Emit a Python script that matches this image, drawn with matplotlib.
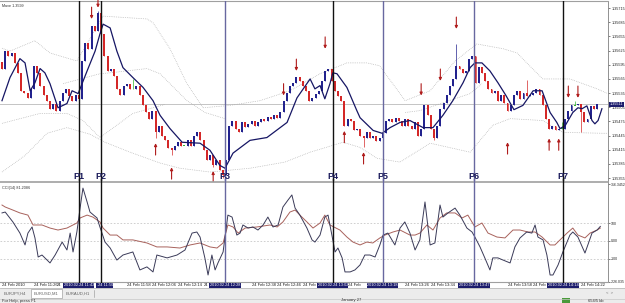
import matplotlib.pyplot as plt
import matplotlib.transforms as mtransforms
from matplotlib.patches import Rectangle
from matplotlib.lines import Line2D

plt.rcParams["font.family"] = ["Liberation Sans", "DejaVu Sans"]

## -----------------------------------------------------------------------------
## EURUSD M1 screenshot: candles + MA + bands on top, CCI(14) below
## prices are in points above 1.35000, x is the bar number
## -----------------------------------------------------------------------------

first_open = 600
close = [587, 624, 614, 620, 599, 578, 540, 536, 525, 544,
         593, 578, 551, 530, 519, 502, 511, 498, 519, 536,
         544, 528, 519, 532, 523, 604, 641, 629, 677, 666,
         704, 660, 614, 582, 587, 572, 544, 532, 551, 555,
         544, 544, 551, 530, 509, 494, 481, 498, 452, 466,
         445, 435, 418, 414, 424, 431, 424, 424, 435, 424,
         445, 452, 435, 414, 393, 403, 382, 393, 372, 361,
         393, 466, 477, 460, 452, 473, 464, 469, 477, 466,
         473, 481, 477, 485, 481, 488, 483, 494, 519, 536,
         551, 557, 570, 561, 551, 540, 519, 525, 534, 540,
         561, 582, 587, 561, 540, 528, 519, 466, 481, 477,
         456, 460, 445, 439, 452, 441, 445, 433, 441, 450,
         477, 481, 473, 483, 477, 466, 481, 466, 460, 473,
         445, 460, 509, 488, 460, 439, 466, 502, 515, 530,
         551, 565, 593, 587, 578, 582, 608, 614, 557, 591,
         578, 561, 544, 536, 540, 519, 530, 515, 498, 509,
         530, 540, 523, 536, 528, 532, 536, 544, 530, 509,
         481, 460, 466, 456, 460, 460, 481, 498, 509, 509,
         513, 494, 473, 481, 507, 502, 511]

hi_bar = [30, 41, 142, 164, 175, 179]
hi_val = [709, 565, 639, 562, 473, 519]
lo_bar = [48, 53, 66, 69, 113, 135, 181]
lo_val = [441, 403, 378, 355, 420, 435, 452]

ma_bar = [0, 2.5, 5.6, 7.2, 8.8, 10.3, 11.9, 13.4, 15, 17.5, 20.3, 21.9, 23.8, 26.6,
          29.1, 30.6, 31.6, 33.8, 35.9, 37.8, 40.9, 44.1, 47.2, 49.4, 52.5, 56.3,
          61.9, 65, 68.1, 69.7, 72.2, 77.5, 82.8, 89.1, 92.2, 96.3, 97.8, 99.4,
          100.9, 102.5, 103.4, 104.7, 107.8, 110.9, 111.9, 116, 118.8, 121.3,
          124.4, 127.5, 131.6, 134.7, 137.8, 140.9, 144.1, 146.3, 147.8, 150,
          152.5, 155, 157.5, 160, 162.8, 166, 168.8, 171.3, 173.4, 174.4, 176,
          178.4, 180, 181.3, 182.8, 184.4, 185.3, 186.3, 187.5]
ma_val = [519, 568, 608, 599, 540, 557, 587, 578, 555, 504, 513, 540, 534, 582,
          624, 660, 681, 673, 624, 589, 568, 547, 519, 488, 460, 431,
          429, 414, 382, 376, 408, 435, 441, 473, 525, 565, 544, 551,
          523, 555, 578, 576, 547, 498, 483, 456, 450, 462,
          473, 477, 462, 462, 488, 519, 557, 589, 599, 599,
          582, 557, 530, 500, 509, 540, 540, 494, 473, 460, 466,
          494, 504, 502, 508, 477, 470, 477, 502]

# dotted band lines, read where they show between the candles
upper_bar = [0, 2.5, 10.3, 15, 23.4, 27.5, 31.6, 45.3, 47.2, 52.5, 57.8, 62.8,
             71.3, 80.6, 90, 99.4, 107.8, 114, 118, 121.9, 126, 133.8, 141.6,
             148.4, 156.6, 161, 164, 169, 177.5, 186, 189]
upper_val = [630, 624, 646, 620, 603, 650, 698, 692, 684, 629, 555, 504,
             509, 519, 540, 576, 599, 599, 593, 557, 519, 540, 603,
             639, 629, 620, 599, 565, 565, 544, 535]
midA_bar = [0, 11.9, 20.3, 25.3, 30.6, 40.9, 47.2, 50.9]
midA_val = [471, 492, 492, 477, 441, 492, 504, 511]
midB_bar = [19.1, 30.6, 33.8, 45.3, 49.4, 57.8, 63.4, 69.7]
midB_val = [555, 576, 578, 587, 576, 519, 494, 481]
midC_bar = [126, 130.6, 146.3, 150]
midC_val = [494, 498, 534, 555]
lower_bar = [0, 7.2, 14.1, 20.3, 27.5, 32.2, 40, 49.4, 55.6, 65, 77.5, 88.4,
             96.3, 106.6, 111.9, 117.2, 124.4, 133.8, 146.3, 153.4, 158.8, 169,
             175.3, 187.8, 189.4]
lower_val = [368, 403, 450, 462, 448, 431, 410, 387, 376, 368, 376, 389,
             410, 431, 420, 397, 389, 429, 410, 467, 481, 477,
             452, 450, 450]

down_arrow_bar = [28, 30, 88, 92, 101, 131, 137, 142, 177, 180]
down_arrow_tip = [692, 716, 530, 582, 629, 530, 561, 671, 525, 525]
up_arrow_bar = [48, 53, 66, 107, 113, 158, 171, 174]
up_arrow_tip = [429, 378, 370, 455, 410, 431, 439, 439]

cci_bar = [0, 1, 3.4, 5.6, 7.2, 8.1, 9.4, 10.3, 11.3, 12.5, 15, 16.6, 18.8, 20.3,
           21.3, 22.2, 23.4, 24.4, 25.3, 26.6, 27.5, 29.7, 30.6, 32.2, 33.8, 35.9,
           37.8, 40.9, 43.1, 45.3, 47.2, 48.4, 51.6, 54.7, 57.2, 59.4, 60.9, 61.9,
           63.4, 64.4, 65.6, 66.6, 67.5, 69.1, 70.6, 71.9, 73.4, 74.4, 75.3, 76.9,
           78.4, 80, 81.6, 83.1, 84.7, 86.3, 87.8, 89.4, 90.6, 91.6, 93.1, 95.3,
           96.9, 97.8, 99.4, 100.9, 101.9, 103.1, 104.1, 105, 106.3, 107.2, 108.8,
           110.3, 111.9, 113.4, 115, 116.6, 118.1, 119.1, 120.6, 122.8, 124.4,
           125.9, 127.5, 129.1, 130.6, 132.2, 133.8, 135.3, 136.9, 137.8, 139.4,
           141.6, 143.1, 145.3, 146.9, 147.8, 149.4, 150.9, 152.5, 153.4, 155,
           156.6, 158.8, 160.3, 161.9, 164, 165.6, 166.6, 167.5, 169.1, 170.3,
           171.3, 172.2, 173.8, 175.3, 177.5, 178.4, 180, 182.2, 183.1, 184.4,
           186, 187]
cci_val = [156, 161, 106, 44, -22, 44, 78, 17, -89, -78, -122, -78, -6, -50,
           44, -61, 50, 183, 294, 217, 161, 128, 78, -6, -39, -106,
           -78, -61, -161, -144, -172, -78, -94, -78, -50, 44, 50, 22,
           -94, -189, -78, -161, -122, -61, 144, 133, 33, 44, 89, 72,
           78, 61, 89, 133, 78, 89, 189, 228, 256, 183, 144, 72,
           6, -6, 33, 133, 144, 33, -61, -39, -94, -172, -172,
           -161, -133, -78, -78, -89, -22, 33, 44, -22, 72,
           106, 44, -50, 6, 217, -22, -11, 200, 133, 156,
           183, 144, 72, 50, 22, -33, -94, -161, -94, -94,
           -106, -122, -33, 17, 50, 44, 89, 22, 6, -78,
           -189, -189, -133, -61, 33, 50, 22, -67, -22, 44,
           61, 81]
sig_bar = [0, 1, 3.4, 5.6, 8.1, 9.7, 12.5, 15, 17.5, 20.3, 23.4, 24.4, 26.6, 28.4,
           30.6, 31.6, 33.8, 35.9, 37.8, 40.9, 45.3, 48.4, 51.6, 55.6, 58.8, 61.9,
           65, 67.2, 69.1, 70.6, 72.2, 73.8, 76, 79.7, 83.8, 86, 87.8, 90, 91.6,
           93.1, 95.3, 97.2, 99.4, 100.9, 102.5, 105.6, 107.8, 109.7, 111.9, 114,
           115.9, 118.1, 119.7, 122.2, 124.4, 127.5, 129.1, 130.6, 132.8, 134.7,
           136.9, 139, 141.6, 143.8, 145.6, 147.8, 150, 151.9, 154.7, 157.2, 159.7,
           161.9, 164.4, 166.6, 168.8, 171.3, 172.8, 174.4, 176.6, 178.4, 180,
           182.2, 183.8, 186, 187]
sig_val = [200, 189, 172, 156, 144, 89, 89, 72, 61, 72, 100, 128, 144, 133,
           106, 72, 33, 33, 6, 6, -11, -33, -33, -39, -22, -11,
           -33, -39, -11, 89, 78, 44, 72, 78, 89, 78, 106, 161, 172,
           144, 106, 72, 100, 144, 89, 61, 22, -6, -22, -6,
           -11, 17, 33, 50, 61, 33, 33, 44, 89, 61,
           128, 156, 156, 128, 144, 78, 100, 44, 22, 17, 61,
           61, 50, 50, 22, -22, -22, 6, 44, 72, 33,
           17, 44, 61, 72]

p_names = ["P1", "P2", "P3", "P4", "P5", "P6", "P7"]
p_bar = [24, 31, 69.7, 103.4, 119, 147.5, 175.3]
p_time = ["2010.02.24 11:42", ".24 11:50", "2010.02.24 12:28",
          "2010.02.24 13:02", "2010.02.24 13:18", "2010.02.24 13:47",
          "2010.02.24 14:14"]

# time labels as they show between the highlighted boxes
time_bar = [0, 10, 17, 39, 47, 55, 63, 78, 86, 94, 108, 126, 134, 158, 166, 181]
time_text = ["24 Feb 2010", "24 Feb 11:26", "24", "24 Feb 11:58",
             "24 Feb 12:06", "24 Feb 12:14", "24", "24 Feb 12:38",
             "24 Feb 12:46", "24 Feb", "24 Feb", "24 Feb 13:26", "24 Feb 13:34",
             "24 Feb 13:58", "24 Feb", "24 Feb 14:22"]

price_ticks = [355, 385, 415, 445, 475, 505, 535, 565, 595, 625, 655, 685, 715]
cci_ticks = [-226.035, -100, 0, 100, 316.3452]
cci_tick_text = ["-226.035", "-100", "0.00", "100", "316.3452"]

## -----------------------------------------------------------------------------
# styles
W, H = 625, 303
UP, DOWN, DOJI = "#22228e", "#d42828", "#2fb82f"
p_colors = ["#111111", "#111111", "#6868a0", "#111111", "#6868a0", "#6868a0", "#111111"]


def fx(x):
    return x / W


def fy(y):
    return 1 - y / H


fig = plt.figure(figsize=(W / 100, H / 100), dpi=100)
fig.patch.set_facecolor("white")
ax1 = fig.add_axes([0, fy(181), fx(608), 180 / H])
ax2 = fig.add_axes([0, fy(282), fx(608), 100 / H])

## -----------------------------------------------------------------------------
# candles
n = len(close)
bars = list(range(n))
opens = [first_open] + close[:-1]
highs = [max(o, c) for o, c in zip(opens, close)]
lows = [min(o, c) for o, c in zip(opens, close)]
for b, v in zip(hi_bar, hi_val):
    highs[b] = v
for b, v in zip(lo_bar, lo_val):
    lows[b] = v
cols, heights, bottoms = [], [], []
for o, c in zip(opens, close):
    if c > o:
        cols.append(UP)
    elif c < o:
        cols.append(DOWN)
    else:
        cols.append(DOJI)
    heights.append(max(abs(c - o), 1.4))
    bottoms.append(min(o, c) - (0.7 if c == o else 0))

ax1.vlines(bars, lows, highs, colors=cols, lw=0.5, zorder=3)
ax1.bar(bars, heights, bottom=bottoms, width=0.6, color=cols, lw=0, zorder=3)

ax1.plot(ma_bar, ma_val, color="#161664", lw=0.9, zorder=4)
for bx, by in [(upper_bar, upper_val), (midA_bar, midA_val), (midB_bar, midB_val),
               (midC_bar, midC_val), (lower_bar, lower_val)]:
    ax1.plot(bx, by, color="#a8a8a8", lw=0.5, ls=(0, (1, 1.6)), zorder=2)

ax1.axhline(close[-1], color="#c4c4c4", lw=0.7, zorder=1)

for b, t in zip(down_arrow_bar, down_arrow_tip):
    ax1.annotate("", xy=(b, t), xytext=(0, 8.5), textcoords="offset points",
                 arrowprops=dict(arrowstyle="-|>", color="#b01c1c", lw=0.8,
                                 mutation_scale=4, shrinkA=0, shrinkB=0), zorder=5)
for b, t in zip(up_arrow_bar, up_arrow_tip):
    ax1.annotate("", xy=(b, t), xytext=(0, -8.5), textcoords="offset points",
                 arrowprops=dict(arrowstyle="-|>", color="#b01c1c", lw=0.8,
                                 mutation_scale=4, shrinkA=0, shrinkB=0), zorder=5)

xlim = (-0.625, 189.4)
ax1.set_xlim(xlim)
ax1.set_ylim(349, 730)
ax1.set_xticks([])
ax1.yaxis.tick_right()
ax1.set_yticks(price_ticks)
ax1.set_yticklabels([f"{1.35 + p / 1e5:.5f}" for p in price_ticks])
ax1.tick_params(axis="y", labelsize=2.7, length=1.5, width=0.4, pad=0.8, colors="#202020")
for side in ["left", "bottom"]:
    ax1.spines[side].set_visible(False)
ax1.spines["top"].set_color("#a0a0a0")
ax1.spines["right"].set_color("#808080")
ax1.spines["right"].set_linewidth(0.6)

ax1.text(1.003, close[-1], f"{1.35 + close[-1] / 1e5:.5f}",
         transform=mtransforms.blended_transform_factory(ax1.transAxes, ax1.transData),
         fontsize=2.7, color="white", va="center", ha="left",
         bbox=dict(boxstyle="square,pad=0.25", fc="#1c1c6c", ec="none"), zorder=6, clip_on=False)
ax1.text(0.004, 0.985, "Mave 1.3599", transform=ax1.transAxes, fontsize=2.7,
         color="#303030", va="top")

## -----------------------------------------------------------------------------
# CCI
for lv in (100, 0, -100):
    ax2.axhline(lv, color="#c8c8c8", lw=0.6, ls=(0, (2, 2)), zorder=1)
ax2.plot(sig_bar, sig_val, color="#a8625c", lw=0.7, zorder=3)
ax2.plot(cci_bar, cci_val, color="#3a3a58", lw=0.7, zorder=4)
ax2.set_xlim(xlim)
ax2.set_ylim(-228, 328)
ax2.set_xticks([])
ax2.yaxis.tick_right()
ax2.set_yticks(cci_ticks)
ax2.set_yticklabels(cci_tick_text)
ax2.tick_params(axis="y", labelsize=2.5, length=1.5, width=0.4, pad=0.6, colors="#202020")
ax2.spines["left"].set_visible(False)
ax2.spines["top"].set_color("#a0a0a0")
ax2.spines["top"].set_linewidth(1.2)
ax2.spines["bottom"].set_color("#a0a0a0")
ax2.spines["right"].set_color("#808080")
ax2.spines["right"].set_linewidth(0.6)
ax2.text(0.004, 0.965, "CCI(14) 81.2086", transform=ax2.transAxes, fontsize=2.7,
         color="#303030", va="top")

tb = mtransforms.blended_transform_factory(ax2.transData, ax2.transAxes)
for b, t in zip(time_bar, time_text):
    ax2.text(b, -0.012, t, transform=tb, fontsize=3, color="#202020",
             va="top", ha="left", clip_on=False, zorder=2)

# P lines and their time boxes (P2's box sits under P1's, only its tail shows)
for k, (name, b, t, c) in enumerate(zip(p_names, p_bar, p_time, p_colors)):
    ax1.axvline(b, color=c, lw=1.0, zorder=6)
    ax2.axvline(b, ymin=-0.06, ymax=1.03, color=c, lw=1.0, zorder=6, clip_on=False)
    ax1.text(b, 0.002, name, transform=mtransforms.blended_transform_factory(ax1.transData, ax1.transAxes),
             fontsize=6.5, fontweight="bold", color="#1c1c5c", ha="center", va="bottom", zorder=7)
    if k == 1:
        ax2.text(p_bar[0] + 5.6, -0.012, t, transform=tb, fontsize=2.8, color="white",
                 ha="left", va="top",
                 bbox=dict(boxstyle="square,pad=0.12", fc="#1c1c6c", ec="none"),
                 clip_on=False, zorder=8)
    else:
        ax2.text(b, -0.012, t, transform=tb, fontsize=2.8, color="white", ha="center", va="top",
                 bbox=dict(boxstyle="square,pad=0.12", fc="#1c1c6c", ec="none"),
                 clip_on=False, zorder=8)

## -----------------------------------------------------------------------------
# terminal tabs and status bar
fig.patches.append(Rectangle((0, fy(303)), 1, 15 / H, transform=fig.transFigure,
                             fc="#ececec", ec="none", zorder=0))
fig.add_artist(Line2D([0, 1], [fy(288.3), fy(288.3)], color="#b0b0b0", lw=0.5))
fig.add_artist(Line2D([0, 1], [fy(298.5), fy(298.5)], color="#c8c8c8", lw=0.5))
fig.patches.append(Rectangle((fx(31), fy(298)), 31 / W, 9.5 / H, transform=fig.transFigure,
                             fc="white", ec="#909090", lw=0.4, zorder=1))
for x, t in [(4, "EURJPY,H4"), (34, "EURUSD,M1"), (66, "EURAUD,H1")]:
    fig.text(fx(x), fy(293.3), t, fontsize=3, color="#606060", va="center")
fig.add_artist(Line2D([fx(94), fx(94)], [fy(290), fy(297)], color="#909090", lw=0.4))
fig.text(fx(606), fy(293.3), "<  >", fontsize=3, color="#707070", va="center")
fig.text(fx(2), fy(301), "For Help, press F1", fontsize=3, color="#303030", va="center")
fig.text(fx(341), fy(300.5), "January 27", fontsize=3, color="#303030", va="center")
fig.patches.append(Rectangle((fx(562), fy(302.5)), 8 / W, 5 / H, transform=fig.transFigure,
                             fc="#4a9a3a", ec="none", zorder=1))
fig.text(fx(588), fy(300.5), "654/5 kb", fontsize=3, color="#303030", va="center")

plt.savefig("out.png", dpi=100)
